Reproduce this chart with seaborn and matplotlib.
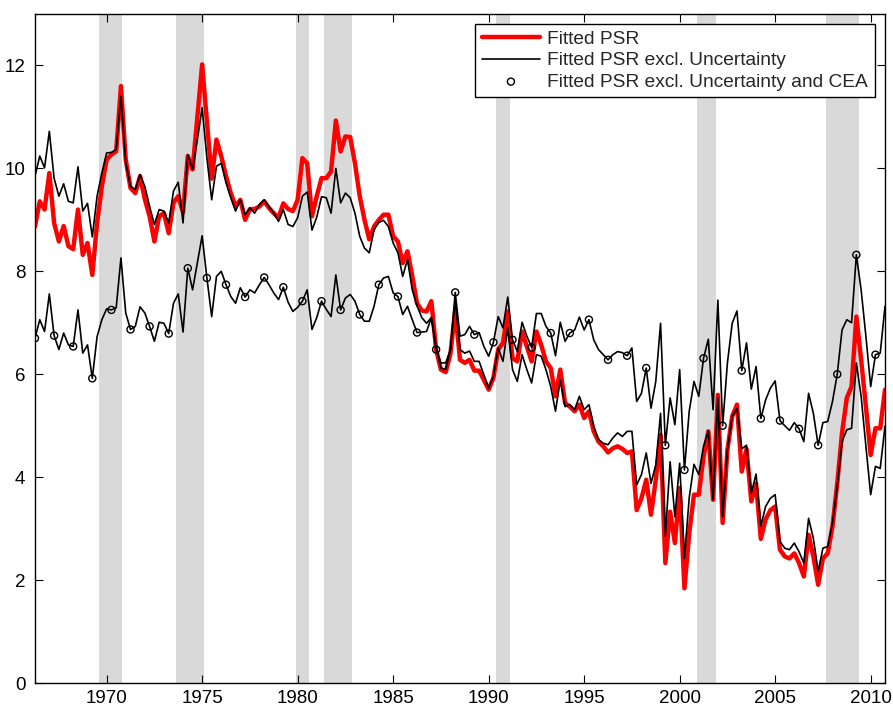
import matplotlib
matplotlib.use('Agg')
import numpy as np
import matplotlib.pyplot as plt
import seaborn as sns

# quarterly series, 1966Q2 .. 2010Q4
fitted_psr = [
    8.87, 9.36, 9.20, 9.91, 8.94, 8.58, 8.88, 8.49, 8.43, 9.20, 8.32, 8.55, 7.93, 8.94, 9.65, 10.17,
    10.27, 10.33, 11.60, 10.17, 9.62, 9.52, 9.85, 9.40, 9.07, 8.58, 9.07, 9.13, 8.74, 9.33, 9.46, 9.15,
    10.24, 9.98, 11.00, 12.02, 10.90, 9.80, 10.56, 10.24, 9.85, 9.52, 9.26, 9.39, 9.00, 9.21, 9.21, 9.26,
    9.36, 9.23, 9.13, 9.04, 9.32, 9.21, 9.17, 9.39, 10.20, 10.10, 9.07, 9.46, 9.81, 9.81, 9.94, 10.93,
    10.33, 10.62, 10.61, 10.10, 9.46, 9.00, 8.62, 8.87, 9.00, 9.10, 9.10, 8.68, 8.58, 8.16, 8.39, 7.91,
    7.38, 7.24, 7.22, 7.42, 6.48, 6.09, 6.04, 6.40, 7.25, 6.28, 6.22, 6.28, 6.07, 6.07, 5.89, 5.70,
    5.93, 6.48, 6.61, 7.22, 6.31, 6.25, 6.83, 6.54, 6.25, 6.83, 6.57, 6.25, 6.12, 5.57, 6.09, 5.44,
    5.37, 5.28, 5.41, 5.15, 5.28, 4.89, 4.69, 4.60, 4.48, 4.56, 4.60, 4.55, 4.47, 4.50, 3.36, 3.59,
    3.95, 3.27, 3.95, 4.82, 2.33, 3.33, 2.72, 3.79, 1.84, 2.91, 3.66, 3.66, 4.40, 4.89, 3.56, 5.60,
    3.11, 4.53, 5.18, 5.41, 4.11, 4.55, 3.53, 3.87, 2.80, 3.18, 3.36, 3.43, 2.59, 2.46, 2.42, 2.52,
    2.33, 2.07, 2.88, 2.46, 1.91, 2.42, 2.52, 3.04, 3.88, 4.86, 5.54, 5.76, 7.12, 6.28, 5.37, 4.43,
    4.95, 4.95, 5.70,
]
excl_unc = [
    9.85, 10.24, 10.01, 10.72, 9.81, 9.46, 9.70, 9.36, 9.33, 10.03, 9.17, 9.32, 8.67, 9.46, 9.91, 10.30,
    10.31, 10.37, 11.40, 10.11, 9.65, 9.59, 9.88, 9.65, 9.26, 8.91, 9.20, 9.17, 8.94, 9.56, 9.73, 8.94,
    10.27, 9.98, 10.56, 11.18, 10.20, 9.39, 10.04, 10.10, 9.72, 9.43, 9.17, 9.39, 9.10, 9.23, 9.13, 9.30,
    9.39, 9.26, 9.13, 8.97, 9.20, 8.91, 8.87, 9.04, 9.46, 9.54, 8.80, 9.05, 9.45, 9.43, 9.13, 10.00,
    9.33, 9.52, 9.43, 9.13, 8.68, 8.45, 8.36, 8.81, 8.95, 8.99, 8.87, 8.55, 8.36, 7.90, 8.23, 7.64,
    7.33, 7.10, 6.99, 7.10, 6.54, 6.12, 6.09, 6.48, 7.45, 6.48, 6.41, 6.45, 6.25, 6.25, 5.99, 5.73,
    5.96, 6.51, 6.25, 6.90, 6.09, 5.86, 6.38, 6.09, 5.83, 6.38, 6.35, 6.09, 5.76, 5.28, 5.89, 5.37,
    5.41, 5.31, 5.57, 5.31, 5.41, 4.99, 4.73, 4.66, 4.63, 4.76, 4.86, 4.79, 4.89, 4.89, 3.85, 4.05,
    4.47, 3.88, 4.24, 5.24, 2.85, 4.30, 3.23, 4.27, 2.42, 3.60, 4.25, 4.05, 4.60, 4.90, 3.56, 5.55,
    3.23, 4.53, 5.18, 5.34, 4.55, 4.62, 3.69, 4.06, 3.05, 3.43, 3.59, 3.66, 2.75, 2.62, 2.59, 2.72,
    2.55, 2.33, 3.20, 2.81, 2.17, 2.62, 2.65, 3.11, 3.82, 4.69, 4.92, 4.95, 6.22, 5.57, 4.60, 3.66,
    4.21, 4.17, 4.99,
]
excl_unc_cea = [
    6.70, 7.06, 6.83, 7.56, 6.75, 6.48, 6.80, 6.57, 6.54, 7.25, 6.41, 6.57, 5.92, 6.73, 7.06, 7.27,
    7.25, 7.29, 8.26, 7.19, 6.87, 6.93, 7.31, 7.19, 6.93, 6.64, 7.01, 6.99, 6.79, 7.38, 7.56, 6.82,
    8.06, 7.64, 8.16, 8.69, 7.87, 7.12, 7.90, 8.00, 7.74, 7.51, 7.38, 7.68, 7.50, 7.64, 7.58, 7.74,
    7.88, 7.74, 7.58, 7.45, 7.69, 7.40, 7.22, 7.30, 7.42, 7.64, 6.87, 7.10, 7.42, 7.26, 7.12, 7.93,
    7.25, 7.48, 7.55, 7.42, 7.16, 7.03, 7.03, 7.32, 7.74, 7.87, 7.90, 7.58, 7.51, 7.16, 7.32, 7.06,
    6.81, 6.82, 6.83, 7.10, 6.48, 6.22, 6.22, 6.48, 7.59, 6.74, 6.77, 6.93, 6.77, 6.81, 6.54, 6.35,
    6.62, 7.12, 6.90, 7.50, 6.67, 6.44, 7.01, 6.74, 6.52, 7.18, 7.18, 6.93, 6.80, 6.36, 7.01, 6.64,
    6.80, 6.86, 7.11, 6.86, 7.06, 6.67, 6.48, 6.38, 6.28, 6.38, 6.44, 6.42, 6.36, 6.51, 5.47, 5.63,
    6.12, 5.34, 5.86, 6.99, 4.62, 5.54, 5.02, 6.09, 4.14, 5.28, 5.86, 5.57, 6.31, 6.68, 5.31, 7.44,
    5.00, 6.22, 6.99, 7.23, 6.07, 6.61, 5.71, 6.15, 5.14, 5.50, 5.73, 5.87, 5.10, 5.00, 4.91, 5.06,
    4.94, 4.69, 5.63, 5.24, 4.62, 5.06, 5.08, 5.47, 6.00, 6.86, 7.06, 7.00, 8.32, 7.64, 6.74, 5.76,
    6.38, 6.41, 7.32,
]

# shaded recessions (start, end)
recessions = [(1969.6, 1970.82), (1973.65, 1975.12), (1979.9, 1980.6), (1981.39, 1982.87),
              (1990.4, 1991.13), (2000.89, 2001.9), (2007.67, 2009.41)]

quarters = 1966.25 + 0.25 * np.arange(len(fitted_psr))

sns.set_theme(style='ticks')
plt.rcParams['font.family'] = ['Liberation Sans', 'DejaVu Sans']
plt.rcParams['font.size'] = 13.5

fig = plt.figure(figsize=(8.93, 7.09), dpi=100)
ax = fig.add_axes([35 / 893, 1 - 683 / 709, 850 / 893, 669 / 709])

for a, b in recessions:
    ax.axvspan(a, b, color='#d9d9d9', lw=0, zorder=0)

sns.lineplot(x=quarters, y=fitted_psr, ax=ax, color='#ff0000', lw=3.2, label='Fitted PSR')
sns.lineplot(x=quarters, y=excl_unc, ax=ax, color='black', lw=1.2,
             label='Fitted PSR excl. Uncertainty')
sns.lineplot(x=quarters, y=excl_unc_cea, ax=ax, color='black', lw=1.2, legend=False)
sns.scatterplot(x=quarters[::4], y=np.array(excl_unc_cea)[::4], ax=ax, s=26,
                facecolor='none', edgecolor='black', linewidth=1.0, zorder=3,
                label='Fitted PSR excl. Uncertainty and CEA')

ax.set_xlim(1966.25, 2010.75)
ax.set_ylim(0, 13)
ax.set_xticks(range(1970, 2011, 5))
ax.set_yticks(range(0, 13, 2))
ax.tick_params(direction='in', length=6, width=0.8, top=True, right=True, labelsize=13.5,
               colors='black')
ax.tick_params(axis='x', pad=5)
ax.tick_params(axis='y', pad=7)
for s in ax.spines.values():
    s.set_visible(True)
    s.set_linewidth(1.0)
    s.set_color('black')

leg = ax.legend(loc='upper right', bbox_to_anchor=(0.988, 0.985), borderaxespad=0,
                fontsize=13.8, handlelength=3.0, handletextpad=0.4, labelspacing=0.2,
                borderpad=0.35, fancybox=False, framealpha=1, edgecolor='black',
                scatterpoints=1)
leg.get_frame().set_linewidth(1.0)

fig.savefig('out.png', dpi=100)
